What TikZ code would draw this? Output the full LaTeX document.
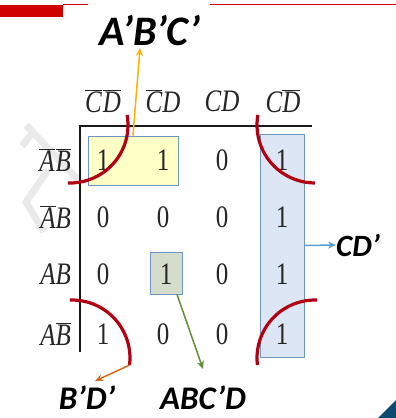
\documentclass[tikz,border=0pt]{standalone}
\usepackage{fontspec}
\setmainfont{Liberation Serif}
\newfontfamily\lblfont{Carlito}
\usetikzlibrary{arrows.meta}
\definecolor{darkred}{HTML}{B00012}
\definecolor{topred}{HTML}{D00000}
\definecolor{yelfill}{HTML}{FFFFC6}
\definecolor{bluefill}{HTML}{DCE6F4}
\definecolor{greenfill}{HTML}{D4DCCB}
\definecolor{boxedge}{HTML}{6F96C2}
\definecolor{arrY}{HTML}{FFB000}
\definecolor{arrB}{HTML}{5B9BD5}
\definecolor{arrO}{HTML}{D8691C}
\definecolor{arrG}{HTML}{5E8F32}
\definecolor{wmark}{HTML}{EAEAEA}
\definecolor{cornerblue}{HTML}{0C4A72}
\newcommand{\ob}[1]{$\overline{\hbox{\itshape #1}}$}
\newcommand{\st}[1]{\scalebox{1}[1.25]{#1}}
\begin{document}
\begin{tikzpicture}[x=1pt,y=-1pt,
  kmap/.style={font=\fontsize{25}{25}\selectfont, text=black!85, inner sep=0pt},
  lbl/.style={font=\lblfont\bfseries\itshape\fontsize{33}{33}\selectfont, inner sep=0pt},
  redarc/.style={draw=darkred, line width=3.2pt},
  gridline/.style={line width=2.6pt, draw=black!90},
  grp/.style={draw=boxedge, line width=0.8pt, inner sep=0pt},
  wm/.style={draw=wmark, line width=7pt},
  arr/.style={line width=1.5pt, -{Stealth[length=8pt,width=7pt]}}
]
\useasboundingbox (0,0) rectangle (396,418);
% top decoration
\fill[topred] (0,5) rectangle (63,17);
\draw[topred, line width=1pt] (63,4.5) -- (88,4.5);
\draw[topred, line width=1pt] (210,4.5) -- (396,4.5);
\fill[cornerblue] (378,418) -- (396,400) -- (396,418) -- cycle;
% watermark
\draw[wm] (26,125) -- (80,182);
\draw[wm] (22,146) -- (34,131);
\draw[wm] (48,170) -- (26,202) -- (44,232);
% group boxes
\node[grp, fill=yelfill, minimum width=90pt, minimum height=49pt] (ybox) at (133,160.5) {};
\node[grp, fill=bluefill, minimum width=44pt, minimum height=223pt] (bbox) at (282,245.5) {};
\node[grp, fill=greenfill, minimum width=32pt, minimum height=42pt] (gbox) at (166,273) {};
% grid lines
\coordinate (gtl) at (80,126);
\coordinate (gtr) at (312,126);
\coordinate (gbl) at (80,352);
\draw[gridline] (gtr) -- (gtl) -- (gbl);
% column headers
\node[kmap] (h1) at (103,101) {\st{\ob{C}\kern1pt\ob{D}}};
\node[kmap] (h2) at (163,101) {\st{\ob{C}\itshape D}};
\node[kmap] (h3) at (222,101) {\st{\itshape CD}};
\node[kmap] (h4) at (283,101) {\st{\itshape C\ob{D}}};
% row headers
\node[kmap, anchor=east] (r1) at (71,160) {\st{\ob{A}\kern1pt\ob{B}}};
\node[kmap, anchor=east] (r2) at (71,217) {\st{\ob{A}\itshape B}};
\node[kmap, anchor=east] (r3) at (71,274) {\st{\itshape AB}};
\node[kmap, anchor=east] (r4) at (71,334) {\st{\itshape A\ob{B}}};
% cells
\node[kmap] (c11) at (103,160) {\st{1}};
\node[kmap] (c12) at (163,160) {\st{1}};
\node[kmap] (c13) at (222,160) {\st{0}};
\node[kmap] (c14) at (282,160) {\st{1}};
\node[kmap] (c21) at (103,217) {\st{0}};
\node[kmap] (c22) at (163,217) {\st{0}};
\node[kmap] (c23) at (222,217) {\st{0}};
\node[kmap] (c24) at (282,217) {\st{1}};
\node[kmap] (c31) at (103,274) {\st{0}};
\node[kmap] (c32) at (166,274) {\st{1}};
\node[kmap] (c33) at (222,274) {\st{0}};
\node[kmap] (c34) at (282,274) {\st{1}};
\node[kmap] (c41) at (103,334) {\st{1}};
\node[kmap] (c42) at (163,334) {\st{0}};
\node[kmap] (c43) at (222,334) {\st{0}};
\node[kmap] (c44) at (282,334) {\st{1}};
% red arcs (corner group B'D')
\coordinate (k1) at (70,125);
\coordinate (k2) at (315,125);
\coordinate (k3) at (72,358);
\coordinate (k4) at (315,358);
\draw[redarc] ([shift={(-10:58)}]k1) arc[start angle=-10, end angle=92, radius=58];
\draw[redarc] ([shift={(190:58)}]k2) arc[start angle=190, end angle=90, radius=58];
\draw[redarc] ([shift={(-92:58)}]k3) arc[start angle=-92, end angle=7, radius=58] coordinate (a3e);
\draw[redarc] ([shift={(-88:58)}]k4) arc[start angle=-88, end angle=-187, radius=58];
% labels
\node[lbl, font=\lblfont\bfseries\itshape\fontsize{42}{42}\selectfont] (lABC) at (150,31) {A’B’C’};
\node[lbl, font=\lblfont\bfseries\itshape\fontsize{31}{31}\selectfont, anchor=west] (lCD) at (336,245) {CD’};
\node[lbl] (lBD) at (87,398) {B’D’};
\node[lbl] (lABCD) at (203,398) {ABC’D};
% arrows
\coordinate (tY) at (140,48);
\coordinate (tO) at (95,381);
\coordinate (tG) at (203,369);
\draw[arr, arrY] (ybox.north) -- (tY);
\draw[arr, arrB] (bbox.east) -- (lCD.west);
\draw[arr, arrO] (a3e) -- (tO);
\draw[arr, arrG] ([xshift=11pt]gbox.south) -- (tG);
\end{tikzpicture}
\end{document}
